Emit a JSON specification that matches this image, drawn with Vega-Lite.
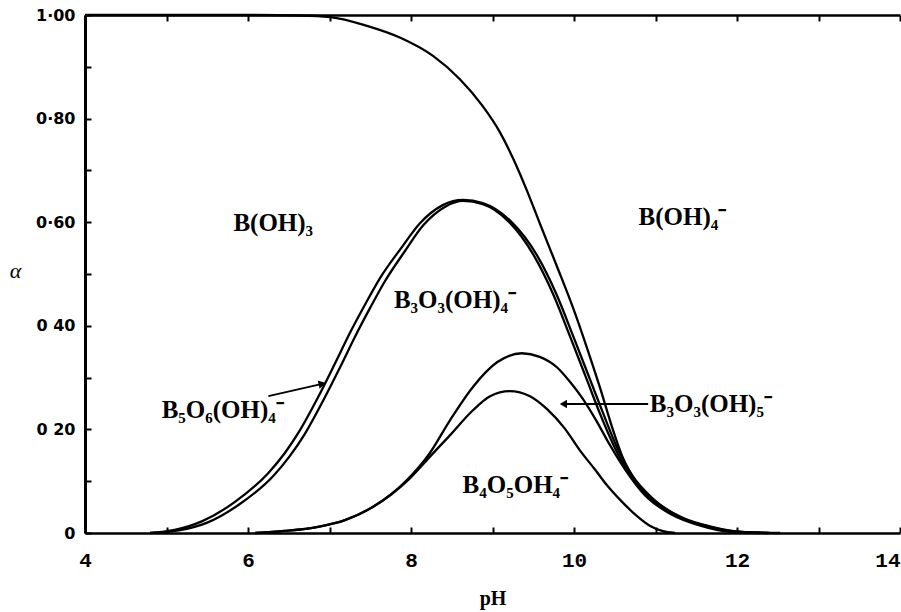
{
  "$schema": "https://vega.github.io/schema/vega-lite/v6.json",
  "width": 815,
  "height": 518,
  "autosize": {"type": "none"},
  "padding": {"left": 85, "top": 15, "right": 1, "bottom": 79},
  "background": "white",
  "config": {"view": {"stroke": null}},
  "datasets": {
    "curves": [
      {"series": "A", "pH": 4.00, "a": 1.000}, {"series": "A", "pH": 6.02, "a": 1.000}, {"series": "A", "pH": 6.64, "a": 0.999}, {"series": "A", "pH": 7.01, "a": 0.996}, {"series": "A", "pH": 7.46, "a": 0.979}, {"series": "A", "pH": 7.87, "a": 0.956}, {"series": "A", "pH": 8.27, "a": 0.921}, {"series": "A", "pH": 8.60, "a": 0.876}, {"series": "A", "pH": 8.88, "a": 0.824}, {"series": "A", "pH": 9.09, "a": 0.774}, {"series": "A", "pH": 9.25, "a": 0.724}, {"series": "A", "pH": 9.42, "a": 0.662}, {"series": "A", "pH": 9.58, "a": 0.598}, {"series": "A", "pH": 9.79, "a": 0.515}, {"series": "A", "pH": 9.99, "a": 0.434}, {"series": "A", "pH": 10.16, "a": 0.357}, {"series": "A", "pH": 10.32, "a": 0.280}, {"series": "A", "pH": 10.47, "a": 0.203}, {"series": "A", "pH": 10.59, "a": 0.149}, {"series": "A", "pH": 10.77, "a": 0.097}, {"series": "A", "pH": 11.02, "a": 0.058}, {"series": "A", "pH": 11.34, "a": 0.029}, {"series": "A", "pH": 11.69, "a": 0.012}, {"series": "A", "pH": 12.06, "a": 0.002}, {"series": "A", "pH": 12.53, "a": 0},
      {"series": "B", "pH": 4.80, "a": 0}, {"series": "B", "pH": 5.10, "a": 0.006}, {"series": "B", "pH": 5.44, "a": 0.023}, {"series": "B", "pH": 5.84, "a": 0.060}, {"series": "B", "pH": 6.25, "a": 0.116}, {"series": "B", "pH": 6.45, "a": 0.154}, {"series": "B", "pH": 6.64, "a": 0.199}, {"series": "B", "pH": 6.85, "a": 0.259}, {"series": "B", "pH": 7.07, "a": 0.328}, {"series": "B", "pH": 7.25, "a": 0.386}, {"series": "B", "pH": 7.44, "a": 0.442}, {"series": "B", "pH": 7.62, "a": 0.492}, {"series": "B", "pH": 7.87, "a": 0.548}, {"series": "B", "pH": 8.11, "a": 0.598}, {"series": "B", "pH": 8.39, "a": 0.633}, {"series": "B", "pH": 8.64, "a": 0.643}, {"series": "B", "pH": 8.88, "a": 0.637}, {"series": "B", "pH": 9.21, "a": 0.604}, {"series": "B", "pH": 9.55, "a": 0.535}, {"series": "B", "pH": 9.79, "a": 0.459}, {"series": "B", "pH": 9.99, "a": 0.380}, {"series": "B", "pH": 10.20, "a": 0.295}, {"series": "B", "pH": 10.37, "a": 0.226}, {"series": "B", "pH": 10.52, "a": 0.168}, {"series": "B", "pH": 10.71, "a": 0.112}, {"series": "B", "pH": 10.97, "a": 0.066}, {"series": "B", "pH": 11.30, "a": 0.031}, {"series": "B", "pH": 11.67, "a": 0.012}, {"series": "B", "pH": 12.04, "a": 0.002}, {"series": "B", "pH": 12.40, "a": 0},
      {"series": "C", "pH": 4.80, "a": 0}, {"series": "C", "pH": 5.15, "a": 0.005}, {"series": "C", "pH": 5.50, "a": 0.020}, {"series": "C", "pH": 5.90, "a": 0.056}, {"series": "C", "pH": 6.31, "a": 0.110}, {"series": "C", "pH": 6.51, "a": 0.148}, {"series": "C", "pH": 6.70, "a": 0.192}, {"series": "C", "pH": 6.91, "a": 0.252}, {"series": "C", "pH": 7.13, "a": 0.320}, {"series": "C", "pH": 7.31, "a": 0.378}, {"series": "C", "pH": 7.50, "a": 0.435}, {"series": "C", "pH": 7.68, "a": 0.486}, {"series": "C", "pH": 7.92, "a": 0.543}, {"series": "C", "pH": 8.15, "a": 0.594}, {"series": "C", "pH": 8.42, "a": 0.630}, {"series": "C", "pH": 8.64, "a": 0.641}, {"series": "C", "pH": 8.88, "a": 0.635}, {"series": "C", "pH": 9.18, "a": 0.604}, {"series": "C", "pH": 9.51, "a": 0.535}, {"series": "C", "pH": 9.75, "a": 0.459}, {"series": "C", "pH": 9.95, "a": 0.380}, {"series": "C", "pH": 10.16, "a": 0.295}, {"series": "C", "pH": 10.33, "a": 0.226}, {"series": "C", "pH": 10.49, "a": 0.168}, {"series": "C", "pH": 10.69, "a": 0.112}, {"series": "C", "pH": 10.94, "a": 0.066}, {"series": "C", "pH": 11.28, "a": 0.031}, {"series": "C", "pH": 11.64, "a": 0.012}, {"series": "C", "pH": 12.01, "a": 0.002}, {"series": "C", "pH": 12.38, "a": 0},
      {"series": "D", "pH": 6.09, "a": 0}, {"series": "D", "pH": 6.45, "a": 0.004}, {"series": "D", "pH": 6.86, "a": 0.012}, {"series": "D", "pH": 7.19, "a": 0.025}, {"series": "D", "pH": 7.53, "a": 0.050}, {"series": "D", "pH": 7.95, "a": 0.102}, {"series": "D", "pH": 8.23, "a": 0.154}, {"series": "D", "pH": 8.48, "a": 0.218}, {"series": "D", "pH": 8.76, "a": 0.282}, {"series": "D", "pH": 9.06, "a": 0.330}, {"series": "D", "pH": 9.36, "a": 0.347}, {"series": "D", "pH": 9.58, "a": 0.340}, {"series": "D", "pH": 9.79, "a": 0.320}, {"series": "D", "pH": 9.95, "a": 0.292}, {"series": "D", "pH": 10.10, "a": 0.261}, {"series": "D", "pH": 10.27, "a": 0.218}, {"series": "D", "pH": 10.44, "a": 0.170}, {"series": "D", "pH": 10.63, "a": 0.122}, {"series": "D", "pH": 10.87, "a": 0.073}, {"series": "D", "pH": 11.18, "a": 0.037}, {"series": "D", "pH": 11.55, "a": 0.014}, {"series": "D", "pH": 11.91, "a": 0.002}, {"series": "D", "pH": 12.28, "a": 0},
      {"series": "E", "pH": 6.09, "a": 0}, {"series": "E", "pH": 6.45, "a": 0.004}, {"series": "E", "pH": 6.86, "a": 0.012}, {"series": "E", "pH": 7.19, "a": 0.025}, {"series": "E", "pH": 7.53, "a": 0.050}, {"series": "E", "pH": 7.95, "a": 0.100}, {"series": "E", "pH": 8.23, "a": 0.147}, {"series": "E", "pH": 8.48, "a": 0.189}, {"series": "E", "pH": 8.76, "a": 0.237}, {"series": "E", "pH": 8.97, "a": 0.264}, {"series": "E", "pH": 9.21, "a": 0.274}, {"series": "E", "pH": 9.46, "a": 0.264}, {"series": "E", "pH": 9.67, "a": 0.239}, {"series": "E", "pH": 9.89, "a": 0.201}, {"series": "E", "pH": 10.07, "a": 0.160}, {"series": "E", "pH": 10.26, "a": 0.122}, {"series": "E", "pH": 10.40, "a": 0.093}, {"series": "E", "pH": 10.59, "a": 0.060}, {"series": "E", "pH": 10.77, "a": 0.033}, {"series": "E", "pH": 10.93, "a": 0.014}, {"series": "E", "pH": 11.08, "a": 0.004}, {"series": "E", "pH": 11.24, "a": 0}
    ],
    "labels": [
      {"label": "B(OH)₃", "pH": 6.31, "a": 0.598},
      {"label": "B(OH)₄⁻", "pH": 11.33, "a": 0.610},
      {"label": "B₃O₃(OH)₄⁻", "pH": 8.54, "a": 0.450},
      {"label": "B₅O₆(OH)₄⁻", "pH": 5.69, "a": 0.237},
      {"label": "B₄O₅OH₄⁻", "pH": 9.28, "a": 0.093}
    ],
    "leftlabels": [
      {"label": "B₃O₃(OH)₅⁻", "pH": 10.93, "a": 0.249}
    ],
    "arrows": [
      {"x": 6.25, "y": 0.264, "x2": 6.91, "y2": 0.288},
      {"x": 10.91, "y": 0.249, "x2": 9.87, "y2": 0.249}
    ],
    "headR": [{"pH": 6.91, "a": 0.288}],
    "headL": [{"pH": 9.87, "a": 0.249}]
  },
  "layer": [
    {
      "data": {"name": "curves"},
      "mark": {"type": "line", "interpolate": "monotone", "color": "black", "strokeWidth": 2.3},
      "encoding": {
        "x": {
          "field": "pH", "type": "quantitative",
          "scale": {"domain": [4, 14], "nice": false, "zero": false},
          "axis": {
            "orient": "bottom",
            "values": [4, 5, 6, 7, 8, 9, 10, 11, 12, 13, 14],
            "labelExpr": "datum.value % 2 === 0 ? datum.label : ''",
            "labelFont": "Liberation Mono", "labelFontWeight": "bold", "labelFontSize": 21, "labelColor": "black",
            "labelAlign": {"condition": {"test": "datum.value === 14", "value": "right"}, "value": "center"},
            "labelPadding": 22,
            "tickSize": -6, "tickWidth": 2, "tickColor": "black",
            "domainColor": "black", "domainWidth": 2.5, "grid": false,
            "title": "pH", "titleFont": "Liberation Serif", "titleFontSize": 20, "titleFontWeight": "bold", "titleColor": "black", "titlePadding": 18
          }
        },
        "y": {
          "field": "a", "type": "quantitative",
          "scale": {"domain": [0, 1], "nice": false},
          "axis": {
            "values": [0, 0.1, 0.2, 0.3, 0.4, 0.5, 0.6, 0.7, 0.8, 0.9, 1],
            "labelExpr": "['0','','0 20','','0 40','','0·60','','0·80','','1·00'][round(datum.value*10)]",
            "labelFont": "DejaVu Sans", "labelFontWeight": "bold", "labelFontSize": 16, "labelColor": "black",
            "labelPadding": 16,
            "tickSize": -6, "tickWidth": 2, "tickColor": "black",
            "domainColor": "black", "domainWidth": 3, "grid": false,
            "title": "α", "titleAngle": 0, "titleX": -70, "titleY": 255, "titleAlign": "center", "titleBaseline": "middle",
            "titleFont": "Liberation Serif", "titleFontStyle": "italic", "titleFontWeight": "normal", "titleFontSize": 22, "titleColor": "black"
          }
        },
        "detail": {"field": "series", "type": "nominal"}
      }
    },
    {
      "data": {"name": "arrows"},
      "mark": {"type": "rule", "color": "black", "strokeWidth": 1.8},
      "encoding": {
        "x": {
          "field": "x", "type": "quantitative",
          "axis": {
            "orient": "top", "values": [4, 5, 6, 7, 8, 9, 10, 11, 12, 13, 14], "labels": false,
            "tickSize": -6, "tickWidth": 2, "tickColor": "black",
            "domainColor": "black", "domainWidth": 2.5, "grid": false, "title": null
          }
        },
        "y": {"field": "y", "type": "quantitative"},
        "x2": {"field": "x2"},
        "y2": {"field": "y2"}
      }
    },
    {
      "data": {"name": "headR"},
      "mark": {"type": "point", "shape": "triangle-right", "filled": true, "color": "black", "size": 70, "angle": -13, "opacity": 1},
      "encoding": {
        "x": {"field": "pH", "type": "quantitative", "axis": null},
        "y": {"field": "a", "type": "quantitative"}
      }
    },
    {
      "data": {"name": "headL"},
      "mark": {"type": "point", "shape": "triangle-left", "filled": true, "color": "black", "size": 70, "opacity": 1},
      "encoding": {
        "x": {"field": "pH", "type": "quantitative", "axis": null},
        "y": {"field": "a", "type": "quantitative"}
      }
    },
    {
      "data": {"name": "labels"},
      "mark": {"type": "text", "font": "Liberation Serif", "fontWeight": "bold", "fontSize": 25, "color": "black", "align": "center", "baseline": "middle"},
      "encoding": {
        "x": {"field": "pH", "type": "quantitative", "axis": null},
        "y": {"field": "a", "type": "quantitative"},
        "text": {"field": "label", "type": "nominal"}
      }
    },
    {
      "data": {"name": "leftlabels"},
      "mark": {"type": "text", "font": "Liberation Serif", "fontWeight": "bold", "fontSize": 25, "color": "black", "align": "left", "baseline": "middle"},
      "encoding": {
        "x": {"field": "pH", "type": "quantitative", "axis": null},
        "y": {"field": "a", "type": "quantitative"},
        "text": {"field": "label", "type": "nominal"}
      }
    }
  ],
  "resolve": {"axis": {"x": "independent"}}
}
